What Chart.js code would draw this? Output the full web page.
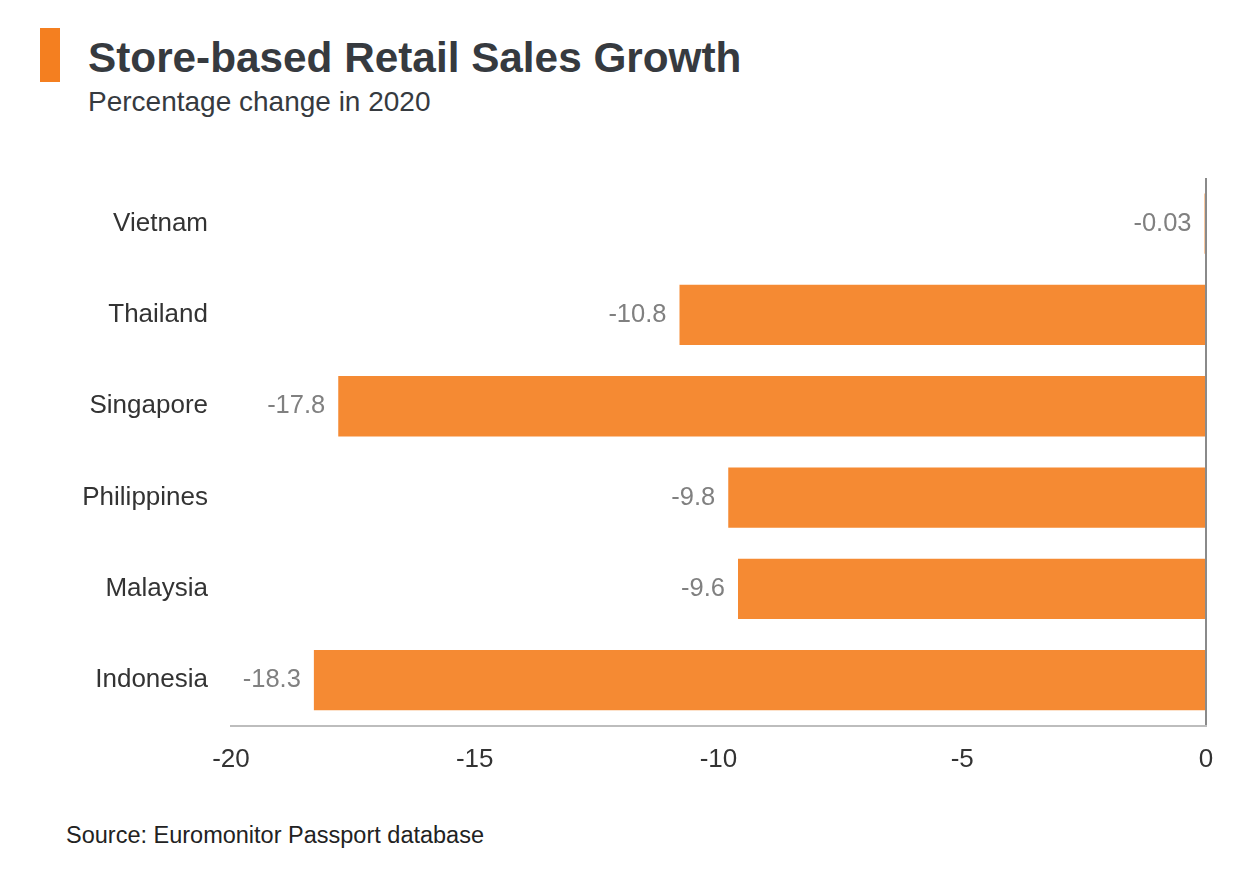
<!DOCTYPE html>
<html>
<head>
<meta charset="utf-8">
<script src="https://cdn.jsdelivr.net/npm/chart.js@4/dist/chart.umd.min.js"></script>
<style>
  body { margin: 0; background: #fff; font-family: "Liberation Sans", Arial, sans-serif; }
  #page { position: relative; width: 1259px; height: 871px; overflow: hidden; }
  .mark { position: absolute; left: 40px; top: 28px; width: 20px; height: 54px; background: #f47f20; }
  .title { position: absolute; left: 88px; top: 37px; font-size: 42.3px; font-weight: bold; color: #363a3f; line-height: 1; }
  .subtitle { position: absolute; left: 88px; top: 88px; font-size: 28px; color: #363a3f; line-height: 1; }
  .source { position: absolute; left: 66px; top: 824px; font-size: 23.5px; color: #222; line-height: 1; }
  #chartBox { position: absolute; left: 0; top: 150px; width: 1259px; height: 650px; }
</style>
</head>
<body>
<div id="page">
  <div class="mark"></div>
  <div class="title">Store-based Retail Sales Growth</div>
  <div class="subtitle">Percentage change in 2020</div>
  <div id="chartBox"><canvas id="chart"></canvas></div>
  <div class="source">Source: Euromonitor Passport database</div>
</div>
<script>
const countries = ['Vietnam', 'Thailand', 'Singapore', 'Philippines', 'Malaysia', 'Indonesia'];
const growth = [-0.03, -10.8, -17.8, -9.8, -9.6, -18.3];
const valueLabels = ['-0.03', '-10.8', '-17.8', '-9.8', '-9.6', '-18.3'];

// draws the value text just left of each bar end
const barLabels = {
    id: 'barLabels',
    afterDatasetsDraw(chart) {
        const ctx = chart.ctx;
        const meta = chart.getDatasetMeta(0);
        ctx.save();
        ctx.font = '25.5px "Liberation Sans", Arial, sans-serif';
        ctx.fillStyle = '#808080';
        ctx.textAlign = 'right';
        ctx.textBaseline = 'middle';
        meta.data.forEach((bar, i) => {
            ctx.fillText(valueLabels[i], bar.x - 13, bar.y);
        });
        ctx.restore();
    }
};

new Chart(document.getElementById('chart'), {
    type: 'bar',
    data: {
        labels: countries,
        datasets: [{
            data: growth,
            backgroundColor: '#f58a33',
            borderWidth: 0,
            barPercentage: 0.66,
            categoryPercentage: 1
        }]
    },
    options: {
        indexAxis: 'y',
        responsive: true,
        maintainAspectRatio: false,
        animation: false,
        layout: { padding: { top: 28, right: 53, bottom: 7, left: 0 } },
        plugins: {
            legend: { display: false },
            tooltip: { enabled: false }
        },
        scales: {
            x: {
                min: -20,
                max: 0,
                z: 1,
                ticks: {
                    stepSize: 5,
                    padding: 18,
                    color: '#333',
                    font: { family: '"Liberation Sans", Arial, sans-serif', size: 26 }
                },
                grid: {
                    drawTicks: false,
                    lineWidth: 2,
                    color: (c) => c.tick && c.tick.value === 0 ? '#8a8a8a' : 'transparent'
                },
                border: { display: true, color: '#bdbdbd', width: 2 }
            },
            y: {
                afterFit(scale) {
                    scale.width = 231;
                    // no extra room above/below for the category labels
                    scale.paddingTop = 0;
                    scale.paddingBottom = 0;
                },
                ticks: {
                    padding: 23,
                    color: '#333',
                    font: { family: '"Liberation Sans", Arial, sans-serif', size: 26 }
                },
                grid: { display: false, drawTicks: false },
                border: { display: false }
            }
        }
    },
    plugins: [barLabels]
});
</script>
</body>
</html>
